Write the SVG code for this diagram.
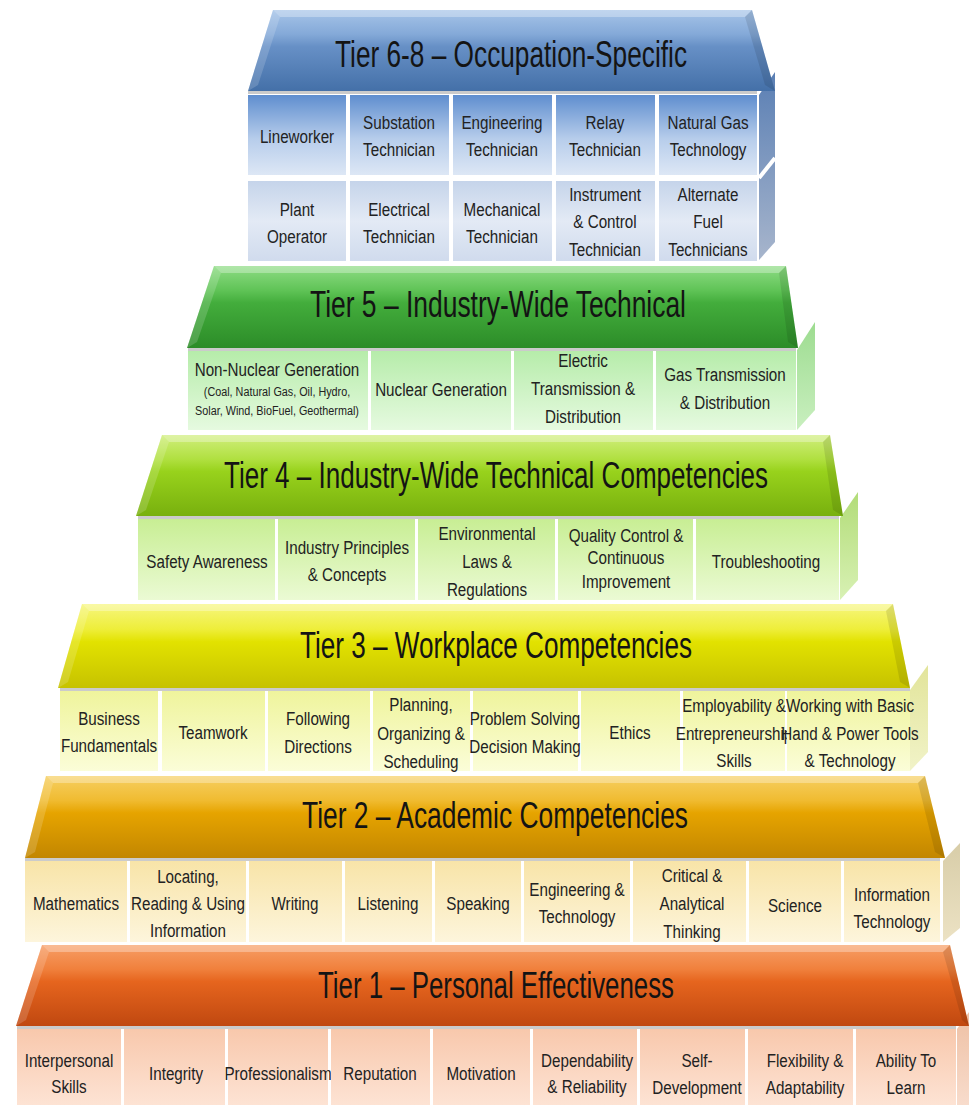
<svg xmlns="http://www.w3.org/2000/svg" width="969" height="1107" viewBox="0 0 969 1107">
<defs>
<linearGradient id="gB6" x1="0" y1="0" x2="0" y2="1"><stop offset="0" stop-color="#a6c4e8"/><stop offset="0.3" stop-color="#84a9d8"/><stop offset="0.45" stop-color="#6790c6"/><stop offset="1" stop-color="#4470a8"/></linearGradient>
<linearGradient id="gC6a" x1="0" y1="0" x2="0" y2="1"><stop offset="0" stop-color="#5f8ecf"/><stop offset="0.55" stop-color="#b7cdeb"/><stop offset="1" stop-color="#dde7f5"/></linearGradient>
<linearGradient id="gC6b" x1="0" y1="0" x2="0" y2="1"><stop offset="0" stop-color="#c5d4ea"/><stop offset="0.5" stop-color="#e3eaf5"/><stop offset="1" stop-color="#d0dbed"/></linearGradient>
<linearGradient id="gS6" x1="0" y1="0" x2="0" y2="1"><stop offset="0" stop-color="#5a7fb4"/><stop offset="1" stop-color="#a7b5cc"/></linearGradient>
<linearGradient id="gB5" x1="0" y1="0" x2="0" y2="1"><stop offset="0" stop-color="#8edc84"/><stop offset="0.3" stop-color="#5fc356"/><stop offset="0.45" stop-color="#43ad3c"/><stop offset="1" stop-color="#2c8c28"/></linearGradient>
<linearGradient id="gC5" x1="0" y1="0" x2="0" y2="1"><stop offset="0" stop-color="#b6ecaa"/><stop offset="1" stop-color="#e6fae0"/></linearGradient>
<linearGradient id="gS5" x1="0" y1="0" x2="0" y2="1"><stop offset="0" stop-color="#9ddc90"/><stop offset="1" stop-color="#c9efbf"/></linearGradient>
<linearGradient id="gB4" x1="0" y1="0" x2="0" y2="1"><stop offset="0" stop-color="#d0ee7c"/><stop offset="0.3" stop-color="#b0e040"/><stop offset="0.45" stop-color="#98d21c"/><stop offset="1" stop-color="#78b00e"/></linearGradient>
<linearGradient id="gC4" x1="0" y1="0" x2="0" y2="1"><stop offset="0" stop-color="#c8ee94"/><stop offset="1" stop-color="#ebfad4"/></linearGradient>
<linearGradient id="gS4" x1="0" y1="0" x2="0" y2="1"><stop offset="0" stop-color="#b2dc78"/><stop offset="1" stop-color="#d8f1b4"/></linearGradient>
<linearGradient id="gB3" x1="0" y1="0" x2="0" y2="1"><stop offset="0" stop-color="#f6f67e"/><stop offset="0.3" stop-color="#eeee3a"/><stop offset="0.45" stop-color="#e2e200"/><stop offset="1" stop-color="#c6c200"/></linearGradient>
<linearGradient id="gC3" x1="0" y1="0" x2="0" y2="1"><stop offset="0" stop-color="#eff49c"/><stop offset="1" stop-color="#fbfdd8"/></linearGradient>
<linearGradient id="gS3" x1="0" y1="0" x2="0" y2="1"><stop offset="0" stop-color="#e2e49a"/><stop offset="1" stop-color="#f1f3c8"/></linearGradient>
<linearGradient id="gB2" x1="0" y1="0" x2="0" y2="1"><stop offset="0" stop-color="#f6cf62"/><stop offset="0.3" stop-color="#f0bb30"/><stop offset="0.45" stop-color="#e6a400"/><stop offset="1" stop-color="#c28600"/></linearGradient>
<linearGradient id="gC2" x1="0" y1="0" x2="0" y2="1"><stop offset="0" stop-color="#f8e4a8"/><stop offset="1" stop-color="#fdf5dc"/></linearGradient>
<linearGradient id="gS2" x1="0" y1="0" x2="0" y2="1"><stop offset="0" stop-color="#d8cda8"/><stop offset="1" stop-color="#ece2c4"/></linearGradient>
<linearGradient id="gB1" x1="0" y1="0" x2="0" y2="1"><stop offset="0" stop-color="#f79e66"/><stop offset="0.3" stop-color="#f0803c"/><stop offset="0.45" stop-color="#e6651e"/><stop offset="1" stop-color="#c04810"/></linearGradient>
<linearGradient id="gC1" x1="0" y1="0" x2="0" y2="1"><stop offset="0" stop-color="#f8c8ac"/><stop offset="1" stop-color="#fde3d4"/></linearGradient>
<linearGradient id="gS1" x1="0" y1="0" x2="0" y2="1"><stop offset="0" stop-color="#eec0a4"/><stop offset="1" stop-color="#f8dccc"/></linearGradient>
</defs>
<style>
text{font-family:"Liberation Sans",Arial,sans-serif;text-anchor:middle;fill:#222}
.h{font-size:36px;fill:#141414}
.t{font-size:19px;transform-box:fill-box;transform-origin:center;transform:scaleX(0.8)}
.s{font-size:13.5px;transform-box:fill-box;transform-origin:center;transform:scaleX(0.8)}
.hl{fill:#fff;opacity:0.3}
.hs{fill:#fff;opacity:0.16}
.dk{fill:#000;opacity:0.1}
.fr{fill:#a8a8a8;opacity:0.6}
.sep{stroke:#fff;stroke-width:4}
</style>
<rect width="969" height="1107" fill="#fff"/>

<!-- Tier 6-8 -->
<g id="tier6">
<polygon points="759,95 775,72 775,242 759,260" fill="url(#gS6)"/>
<line class="sep" x1="759" y1="178" x2="775" y2="158"/>
<g id="t6-banner">
<polygon points="273,10 752,10 775,91 248,91" fill="url(#gB6)"/>
<polygon class="hl" points="273,10 752,10 745,17 280,17"/>
<polygon class="hs" points="273,10 280,17 258,85 248,91"/>
<polygon class="dk" points="752,10 775,91 765,85 745,17"/>
<text class="h" x="511" y="67" textLength="352" lengthAdjust="spacingAndGlyphs">Tier 6-8 – Occupation-Specific</text>
</g>
<g id="t6-lineworker"><rect x="248" y="95" width="98" height="80" fill="url(#gC6a)"/><text class="t" x="297" y="143">Lineworker</text></g>
<g id="t6-substation"><rect x="350" y="95" width="99" height="80" fill="url(#gC6a)"/><text class="t" x="399" y="129">Substation</text><text class="t" x="399" y="156">Technician</text></g>
<g id="t6-engineering"><rect x="453" y="95" width="99" height="80" fill="url(#gC6a)"/><text class="t" x="502" y="129">Engineering</text><text class="t" x="502" y="156">Technician</text></g>
<g id="t6-relay"><rect x="556" y="95" width="99" height="80" fill="url(#gC6a)"/><text class="t" x="605" y="129">Relay</text><text class="t" x="605" y="156">Technician</text></g>
<g id="t6-naturalgas"><rect x="659" y="95" width="98" height="80" fill="url(#gC6a)"/><text class="t" x="708" y="129">Natural Gas</text><text class="t" x="708" y="156">Technology</text></g>
<g id="t6-plant"><rect x="248" y="181" width="98" height="80" fill="url(#gC6b)"/><text class="t" x="297" y="216">Plant</text><text class="t" x="297" y="243">Operator</text></g>
<g id="t6-electrical"><rect x="350" y="181" width="99" height="80" fill="url(#gC6b)"/><text class="t" x="399" y="216">Electrical</text><text class="t" x="399" y="243">Technician</text></g>
<g id="t6-mechanical"><rect x="453" y="181" width="99" height="80" fill="url(#gC6b)"/><text class="t" x="502" y="216">Mechanical</text><text class="t" x="502" y="243">Technician</text></g>
<g id="t6-instrument"><rect x="556" y="181" width="99" height="80" fill="url(#gC6b)"/><text class="t" x="605" y="201">Instrument</text><text class="t" x="605" y="228">&amp; Control</text><text class="t" x="605" y="256">Technician</text></g>
<g id="t6-alternate"><rect x="659" y="181" width="98" height="80" fill="url(#gC6b)"/><text class="t" x="708" y="201">Alternate</text><text class="t" x="708" y="228">Fuel</text><text class="t" x="708" y="256">Technicians</text></g>
<rect class="fr" x="248" y="91" width="509" height="3"/>
</g>

<!-- Tier 5 -->
<g id="tier5">
<polygon points="797,350 815,322 815,410 797,430" fill="url(#gS5)"/>
<g id="t5-banner">
<polygon points="214,266 786,266 798,348 187,348" fill="url(#gB5)"/>
<polygon class="hl" points="214,266 786,266 779,273 221,273"/>
<polygon class="hs" points="214,266 221,273 197,342 187,348"/>
<polygon class="dk" points="786,266 798,348 788,342 779,273"/>
<text class="h" x="498" y="317" textLength="376" lengthAdjust="spacingAndGlyphs">Tier 5 – Industry-Wide Technical</text>
</g>
<g id="t5-nonnuclear"><rect x="188" y="351" width="180" height="79" fill="url(#gC5)"/><text class="t" x="277" y="376">Non-Nuclear Generation</text><text class="s" x="277" y="396">(Coal, Natural Gas, Oil, Hydro,</text><text class="s" x="277" y="415">Solar, Wind, BioFuel, Geothermal)</text></g>
<g id="t5-nuclear"><rect x="371" y="351" width="140" height="79" fill="url(#gC5)"/><text class="t" x="441" y="396">Nuclear Generation</text></g>
<g id="t5-electric"><rect x="514" y="351" width="139" height="79" fill="url(#gC5)"/><text class="t" x="583" y="367">Electric</text><text class="t" x="583" y="395">Transmission &amp;</text><text class="t" x="583" y="423">Distribution</text></g>
<g id="t5-gas"><rect x="656" y="351" width="140" height="79" fill="url(#gC5)"/><text class="t" x="725" y="381">Gas Transmission</text><text class="t" x="725" y="409">&amp; Distribution</text></g>
<rect class="fr" x="188" y="348" width="608" height="3"/>
</g>

<!-- Tier 4 -->
<g id="tier4">
<polygon points="840,518 858,492 858,580 840,600" fill="url(#gS4)"/>
<g id="t4-banner">
<polygon points="162,435 830,435 843,516 136,516" fill="url(#gB4)"/>
<polygon class="hl" points="162,435 830,435 823,442 169,442"/>
<polygon class="hs" points="162,435 169,442 146,510 136,516"/>
<polygon class="dk" points="830,435 843,516 833,510 823,442"/>
<text class="h" x="496" y="488" textLength="544" lengthAdjust="spacingAndGlyphs">Tier 4 – Industry-Wide Technical Competencies</text>
</g>
<g id="t4-safety"><rect x="138" y="519" width="137" height="81" fill="url(#gC4)"/><text class="t" x="207" y="568">Safety Awareness</text></g>
<g id="t4-principles"><rect x="278" y="519" width="137" height="81" fill="url(#gC4)"/><text class="t" x="347" y="554">Industry Principles</text><text class="t" x="347" y="581">&amp; Concepts</text></g>
<g id="t4-environmental"><rect x="418" y="519" width="137" height="81" fill="url(#gC4)"/><text class="t" x="487" y="540">Environmental</text><text class="t" x="487" y="568">Laws &amp;</text><text class="t" x="487" y="596">Regulations</text></g>
<g id="t4-quality"><rect x="558" y="519" width="135" height="81" fill="url(#gC4)"/><text class="t" x="626" y="542">Quality Control &amp;</text><text class="t" x="626" y="564">Continuous</text><text class="t" x="626" y="588">Improvement</text></g>
<g id="t4-troubleshooting"><rect x="696" y="519" width="143" height="81" fill="url(#gC4)"/><text class="t" x="766" y="568">Troubleshooting</text></g>
<rect class="fr" x="138" y="516" width="701" height="3"/>
</g>

<!-- Tier 3 -->
<g id="tier3">
<polygon points="910,690 928,665 928,752 910,771" fill="url(#gS3)"/>
<g id="t3-banner">
<polygon points="82,604 893,604 910,688 58,688" fill="url(#gB3)"/>
<polygon class="hl" points="82,604 893,604 886,611 89,611"/>
<polygon class="hs" points="82,604 89,611 68,682 58,688"/>
<polygon class="dk" points="893,604 910,688 900,682 886,611"/>
<text class="h" x="496" y="658" textLength="392" lengthAdjust="spacingAndGlyphs">Tier 3 – Workplace Competencies</text>
</g>
<g id="t3-business"><rect x="60" y="691" width="98" height="80" fill="url(#gC3)"/><text class="t" x="109" y="725">Business</text><text class="t" x="109" y="752">Fundamentals</text></g>
<g id="t3-teamwork"><rect x="162" y="691" width="103" height="80" fill="url(#gC3)"/><text class="t" x="213" y="739">Teamwork</text></g>
<g id="t3-following"><rect x="268" y="691" width="102" height="80" fill="url(#gC3)"/><text class="t" x="318" y="725">Following</text><text class="t" x="318" y="753">Directions</text></g>
<g id="t3-planning"><rect x="373" y="691" width="97" height="80" fill="url(#gC3)"/><text class="t" x="421" y="711">Planning,</text><text class="t" x="421" y="740">Organizing &amp;</text><text class="t" x="421" y="768">Scheduling</text></g>
<g id="t3-problem"><rect x="473" y="691" width="105" height="80" fill="url(#gC3)"/><text class="t" x="525" y="725">Problem Solving</text><text class="t" x="525" y="753">Decision Making</text></g>
<g id="t3-ethics"><rect x="581" y="691" width="99" height="80" fill="url(#gC3)"/><text class="t" x="630" y="739">Ethics</text></g>
<g id="t3-employability"><rect x="683" y="691" width="102" height="80" fill="url(#gC3)"/><text class="t" x="734" y="712">Employability &amp;</text><text class="t" x="734" y="740">Entrepreneurship</text><text class="t" x="734" y="767">Skills</text></g>
<g id="t3-working"><rect x="787" y="691" width="123" height="80" fill="url(#gC3)"/><text class="t" x="850" y="712">Working with Basic</text><text class="t" x="850" y="740">Hand &amp; Power Tools</text><text class="t" x="850" y="767">&amp; Technology</text></g>
<rect class="fr" x="60" y="688" width="850" height="3"/>
</g>

<!-- Tier 2 -->
<g id="tier2">
<polygon points="943,861 960,843 960,928 943,942" fill="url(#gS2)"/>
<g id="t2-banner">
<polygon points="46,776 925,776 945,858 25,858" fill="url(#gB2)"/>
<polygon class="hl" points="46,776 925,776 918,783 53,783"/>
<polygon class="hs" points="46,776 53,783 35,852 25,858"/>
<polygon class="dk" points="925,776 945,858 935,852 918,783"/>
<text class="h" x="495" y="828" textLength="386" lengthAdjust="spacingAndGlyphs">Tier 2 – Academic Competencies</text>
</g>
<g id="t2-math"><rect x="25" y="861" width="102" height="81" fill="url(#gC2)"/><text class="t" x="76" y="910">Mathematics</text></g>
<g id="t2-locating"><rect x="130" y="861" width="116" height="81" fill="url(#gC2)"/><text class="t" x="188" y="883">Locating,</text><text class="t" x="188" y="910">Reading &amp; Using</text><text class="t" x="188" y="937">Information</text></g>
<g id="t2-writing"><rect x="249" y="861" width="93" height="81" fill="url(#gC2)"/><text class="t" x="295" y="910">Writing</text></g>
<g id="t2-listening"><rect x="345" y="861" width="87" height="81" fill="url(#gC2)"/><text class="t" x="388" y="910">Listening</text></g>
<g id="t2-speaking"><rect x="435" y="861" width="86" height="81" fill="url(#gC2)"/><text class="t" x="478" y="910">Speaking</text></g>
<g id="t2-engineering"><rect x="524" y="861" width="106" height="81" fill="url(#gC2)"/><text class="t" x="577" y="896">Engineering &amp;</text><text class="t" x="577" y="923">Technology</text></g>
<g id="t2-critical"><rect x="633" y="861" width="113" height="81" fill="url(#gC2)"/><text class="t" x="692" y="882">Critical &amp;</text><text class="t" x="692" y="910">Analytical</text><text class="t" x="692" y="938">Thinking</text></g>
<g id="t2-science"><rect x="749" y="861" width="92" height="81" fill="url(#gC2)"/><text class="t" x="795" y="912">Science</text></g>
<g id="t2-infotech"><rect x="844" y="861" width="96" height="81" fill="url(#gC2)"/><text class="t" x="892" y="901">Information</text><text class="t" x="892" y="928">Technology</text></g>
<rect class="fr" x="25" y="858" width="915" height="3"/>
</g>

<!-- Tier 1 -->
<g id="tier1">
<polygon points="957,1029 969,1012 969,1105 957,1105" fill="url(#gS1)"/>
<g id="t1-banner">
<polygon points="42,945 950,945 969,1026 16,1026" fill="url(#gB1)"/>
<polygon class="hl" points="42,945 950,945 943,952 49,952"/>
<polygon class="hs" points="42,945 49,952 26,1020 16,1026"/>
<polygon class="dk" points="950,945 969,1026 962,1020 943,952"/>
<text class="h" x="496" y="998" textLength="356" lengthAdjust="spacingAndGlyphs">Tier 1 – Personal Effectiveness</text>
</g>
<g id="t1-interpersonal"><rect x="17" y="1029" width="104" height="76" fill="url(#gC1)"/><text class="t" x="69" y="1067">Interpersonal</text><text class="t" x="69" y="1093">Skills</text></g>
<g id="t1-integrity"><rect x="124" y="1029" width="101" height="76" fill="url(#gC1)"/><text class="t" x="176" y="1080">Integrity</text></g>
<g id="t1-professionalism"><rect x="228" y="1029" width="100" height="76" fill="url(#gC1)"/><text class="t" x="278" y="1080">Professionalism</text></g>
<g id="t1-reputation"><rect x="331" y="1029" width="99" height="76" fill="url(#gC1)"/><text class="t" x="380" y="1080">Reputation</text></g>
<g id="t1-motivation"><rect x="433" y="1029" width="97" height="76" fill="url(#gC1)"/><text class="t" x="481" y="1080">Motivation</text></g>
<g id="t1-dependability"><rect x="533" y="1029" width="104" height="76" fill="url(#gC1)"/><text class="t" x="587" y="1067">Dependability</text><text class="t" x="587" y="1093">&amp; Reliability</text></g>
<g id="t1-self"><rect x="640" y="1029" width="105" height="76" fill="url(#gC1)"/><text class="t" x="697" y="1067">Self-</text><text class="t" x="697" y="1094">Development</text></g>
<g id="t1-flexibility"><rect x="748" y="1029" width="105" height="76" fill="url(#gC1)"/><text class="t" x="805" y="1067">Flexibility &amp;</text><text class="t" x="805" y="1094">Adaptability</text></g>
<g id="t1-ability"><rect x="856" y="1029" width="100" height="76" fill="url(#gC1)"/><text class="t" x="906" y="1067">Ability To</text><text class="t" x="906" y="1094">Learn</text></g>
<rect class="fr" x="17" y="1026" width="939" height="3"/>
</g>
</svg>
